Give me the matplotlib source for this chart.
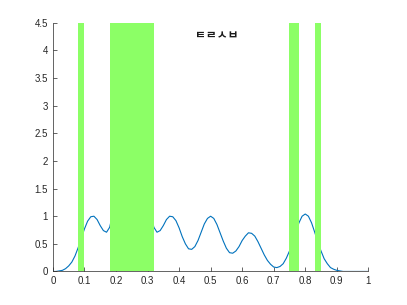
import numpy as np
import matplotlib.pyplot as plt
from matplotlib.ticker import FormatStrFormatter

plt.rcParams['font.family'] = ['Liberation Sans', 'Noto Sans CJK KR', 'DejaVu Sans']

# curve, x step 0.01
x = np.round(np.arange(0, 1.001, 0.01), 2)
y = [0.00, 0.00, 0.01, 0.02, 0.05, 0.10, 0.17, 0.28, 0.43, 0.60,
     0.77, 0.91, 0.99, 1.00, 0.94, 0.83, 0.74, 0.71, 0.80, 1.06,
     1.51, 2.10, 2.77, 3.39, 3.84, 4.00, 3.84, 3.39, 2.77, 2.10,
     1.51, 1.06, 0.80, 0.71, 0.74, 0.83, 0.94, 1.00, 0.99, 0.92,
     0.79, 0.63, 0.50, 0.41, 0.40, 0.45, 0.56, 0.71, 0.86, 0.96,
     1.00, 0.96, 0.85, 0.70, 0.55, 0.42, 0.34, 0.33, 0.37, 0.45,
     0.56, 0.64, 0.70, 0.69, 0.64, 0.54, 0.42, 0.30, 0.20, 0.13,
     0.08, 0.07, 0.09, 0.14, 0.24, 0.37, 0.53, 0.71, 0.88, 1.00,
     1.04, 1.00, 0.88, 0.71, 0.53, 0.37, 0.23, 0.14, 0.07, 0.04,
     0.02, 0.01, 0.00, 0.00, 0.00, 0.00, 0.00, 0.00, 0.00, 0.00,
     0.00]

# shaded intervals
band_start = [0.08, 0.18, 0.75, 0.83]
band_end = [0.10, 0.32, 0.78, 0.85]

label = 'ㅌㄹㅅㅂ'

fig = plt.figure(figsize=(4.07, 3.05), dpi=100)
ax = fig.add_axes([0.13, 0.11, 0.775, 0.815])
ax.plot(x, y, color='#0072BD', lw=0.8, zorder=2)
for a, b in zip(band_start, band_end):
    ax.fill_between([a, b], 0, 4.5, color='#8cff66', lw=0, zorder=3)
ax.text(0.52, 4.26, label, ha='center', va='center', fontsize=8.5,
        fontweight='bold', color='#1a1a1a', zorder=4)

ax.set_xlim(0, 1)
ax.set_ylim(0, 4.5)
ax.set_xticks(np.arange(0, 1.01, 0.1))
ax.set_yticks(np.arange(0, 4.51, 0.5))
ax.xaxis.set_major_formatter(FormatStrFormatter('%g'))
ax.yaxis.set_major_formatter(FormatStrFormatter('%g'))
ax.spines['top'].set_visible(False)
ax.spines['right'].set_visible(False)
for s in ['left', 'bottom']:
    ax.spines[s].set_color('#262626')
    ax.spines[s].set_linewidth(0.5)
    ax.spines[s].set_zorder(1)
ax.tick_params(direction='in', length=3, width=0.5, color='#262626', labelsize=7, labelcolor='#262626')

fig.savefig('out.png', dpi=100)
